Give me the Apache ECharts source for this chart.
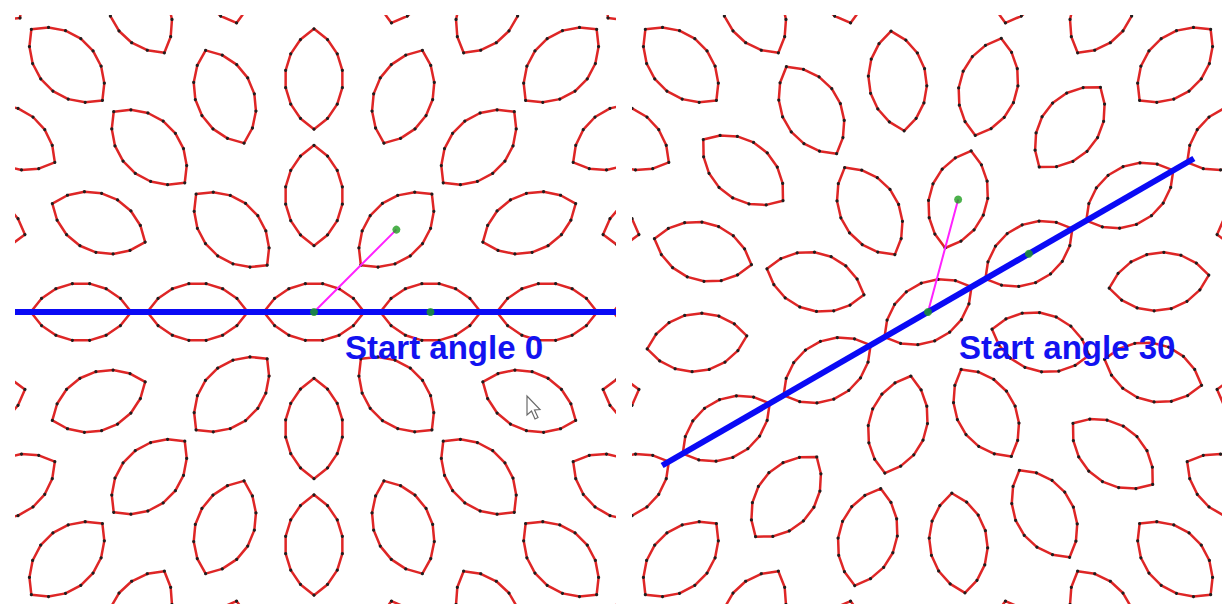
<!DOCTYPE html>
<html>
<head>
<meta charset="utf-8">
<script src="https://cdn.jsdelivr.net/npm/echarts@6/dist/echarts.min.js"></script>
<style>
html,body{margin:0;padding:0;background:#fff;}
#chart{width:1222px;height:604px;}
</style>
</head>
<body>
<div id="chart"></div>
<script>
// ---------- data ----------
const startAngles = [0, 30];                       // degrees, one per panel
const panelTitles = ['Start angle 0', 'Start angle 30'];
const ringCounts = [1, 8, 16, 24, 32];             // lenses per ring (ring 0 = centre)
const ringSpacing = 116.5;                         // distance between rings
const lensRadius = 58;                             // arc radius of each vesica lens
const arcSegments = 7;                             // polyline segments per arc
const guideHalfLength = 307;                       // half length of the blue guide line

// ---------- layout ----------
const panels = [
  {left: 15, top: 15, width: 601, height: 589, cx: 314, cy: 312},
  {left: 632, top: 15, width: 590, height: 589, cx: 928, cy: 312}
];

const RED = '#de2626';
const DOT = '#1e1e1e';

function lensPoints(cx, cy, angDeg) {
  const a = angDeg * Math.PI / 180;
  const ca = Math.cos(a), sa = Math.sin(a);
  const R = lensRadius;
  const pts = [];
  for (let i = 0; i <= arcSegments; i++) {
    const t = (30 + 120 * i / arcSegments) * Math.PI / 180;
    pts.push([R * Math.cos(t), -R / 2 + R * Math.sin(t)]);
  }
  for (let i = 1; i < arcSegments; i++) {
    const t = (210 + 120 * i / arcSegments) * Math.PI / 180;
    pts.push([R * Math.cos(t), R / 2 + R * Math.sin(t)]);
  }
  return pts.map(p => [cx + p[0] * ca - p[1] * sa, cy + p[0] * sa + p[1] * ca]);
}

function polar(r, angDeg) {
  const a = angDeg * Math.PI / 180;
  return [r * Math.cos(a), r * Math.sin(a)];
}

// clip segment p0->p1 to box [x0,x1]x[y0,y1] (Liang-Barsky)
function clipSeg(p0, p1, x0, x1, y0, y1) {
  let t0 = 0, t1 = 1;
  const dx = p1[0] - p0[0], dy = p1[1] - p0[1];
  const P = [-dx, dx, -dy, dy], Q = [p0[0] - x0, x1 - p0[0], p0[1] - y0, y1 - p0[1]];
  for (let i = 0; i < 4; i++) {
    if (P[i] === 0) { if (Q[i] < 0) return null; continue; }
    const r = Q[i] / P[i];
    if (P[i] < 0) { if (r > t1) return null; if (r > t0) t0 = r; }
    else { if (r < t0) return null; if (r < t1) t1 = r; }
  }
  return [[p0[0] + t0 * dx, p0[1] + t0 * dy], [p0[0] + t1 * dx, p0[1] + t1 * dy]];
}

const grids = [], xAxes = [], yAxes = [], series = [], graphics = [];

panels.forEach((pn, p) => {
  const start = startAngles[p];
  const xmin = pn.left - pn.cx, xmax = pn.left + pn.width - pn.cx;
  const ymin = -(pn.top + pn.height - pn.cy), ymax = pn.cy - pn.top;
  grids.push({left: pn.left, top: pn.top, width: pn.width, height: pn.height, show: false});
  xAxes.push({type: 'value', gridIndex: p, show: false, min: xmin, max: xmax, splitLine: {show: false}});
  yAxes.push({type: 'value', gridIndex: p, show: false, min: ymin, max: ymax, splitLine: {show: false}});

  const lensData = [];
  ringCounts.forEach((n, k) => {
    for (let j = 0; j < n; j++) {
      const ang = start + j * 360 / n;
      const c = polar(k * ringSpacing, ang);
      lensData.push([c[0], c[1], ang]);
    }
  });

  series.push({
    type: 'custom', xAxisIndex: p, yAxisIndex: p, clip: true, silent: true,
    data: lensData,
    renderItem: function (params, api) {
      const cs = params.coordSys;
      const pts = lensPoints(api.value(0), api.value(1), api.value(2)).map(q => api.coord(q));
      const children = [{
        type: 'polygon', shape: {points: pts},
        style: {fill: 'none', stroke: RED, lineWidth: 2.5, lineJoin: 'round'}
      }];
      pts.forEach(q => children.push({
        type: 'circle', shape: {cx: q[0], cy: q[1], r: 1.6}, style: {fill: DOT}
      }));
      return {type: 'group', children: children,
        clipPath: {type: 'rect', shape: {x: cs.x, y: cs.y, width: cs.width, height: cs.height}}};
    }
  });

  const c0 = [0, 0];
  const r1a = polar(ringSpacing, start);
  const r1b = polar(ringSpacing, start + 45);

  series.push({
    type: 'line', xAxisIndex: p, yAxisIndex: p, silent: true, symbol: 'none',
    data: [r1b, c0, r1a], lineStyle: {color: '#ff22ff', width: 2}, z: 3
  });
  const seg = clipSeg(polar(-guideHalfLength, start), polar(guideHalfLength, start), xmin, xmax, ymin, ymax);
  series.push({
    type: 'line', xAxisIndex: p, yAxisIndex: p, silent: true, symbol: 'none',
    data: seg, lineStyle: {color: '#0a0af5', width: 6, cap: 'butt'}, z: 4
  });
  series.push({
    type: 'scatter', xAxisIndex: p, yAxisIndex: p, silent: true, symbolSize: 8,
    data: [c0, r1a, r1b], itemStyle: {color: '#1f9e1f'}, z: 5
  });

  graphics.push({
    type: 'text', x: pn.cx + 31, y: pn.cy + 35, z: 10,
    style: {text: panelTitles[p], font: 'bold 33px "Liberation Sans", Arial, sans-serif',
      fill: '#1212f0', verticalAlign: 'middle', align: 'left'}
  });
});

graphics.push({
  type: 'polygon', x: 527, y: 396, z: 11,
  shape: {points: [[0,0],[0,19],[4.5,15],[8,23],[11,21.5],[7.5,14],[13,13.5]]},
  style: {fill: '#ffffff', stroke: '#6a6a6a', lineWidth: 1.2}
});

const chart = echarts.init(document.getElementById('chart'), null, {renderer: 'svg'});
chart.setOption({
  animation: false,
  backgroundColor: '#ffffff',
  grid: grids,
  xAxis: xAxes,
  yAxis: yAxes,
  series: series,
  graphic: graphics
});
</script>
</body>
</html>
